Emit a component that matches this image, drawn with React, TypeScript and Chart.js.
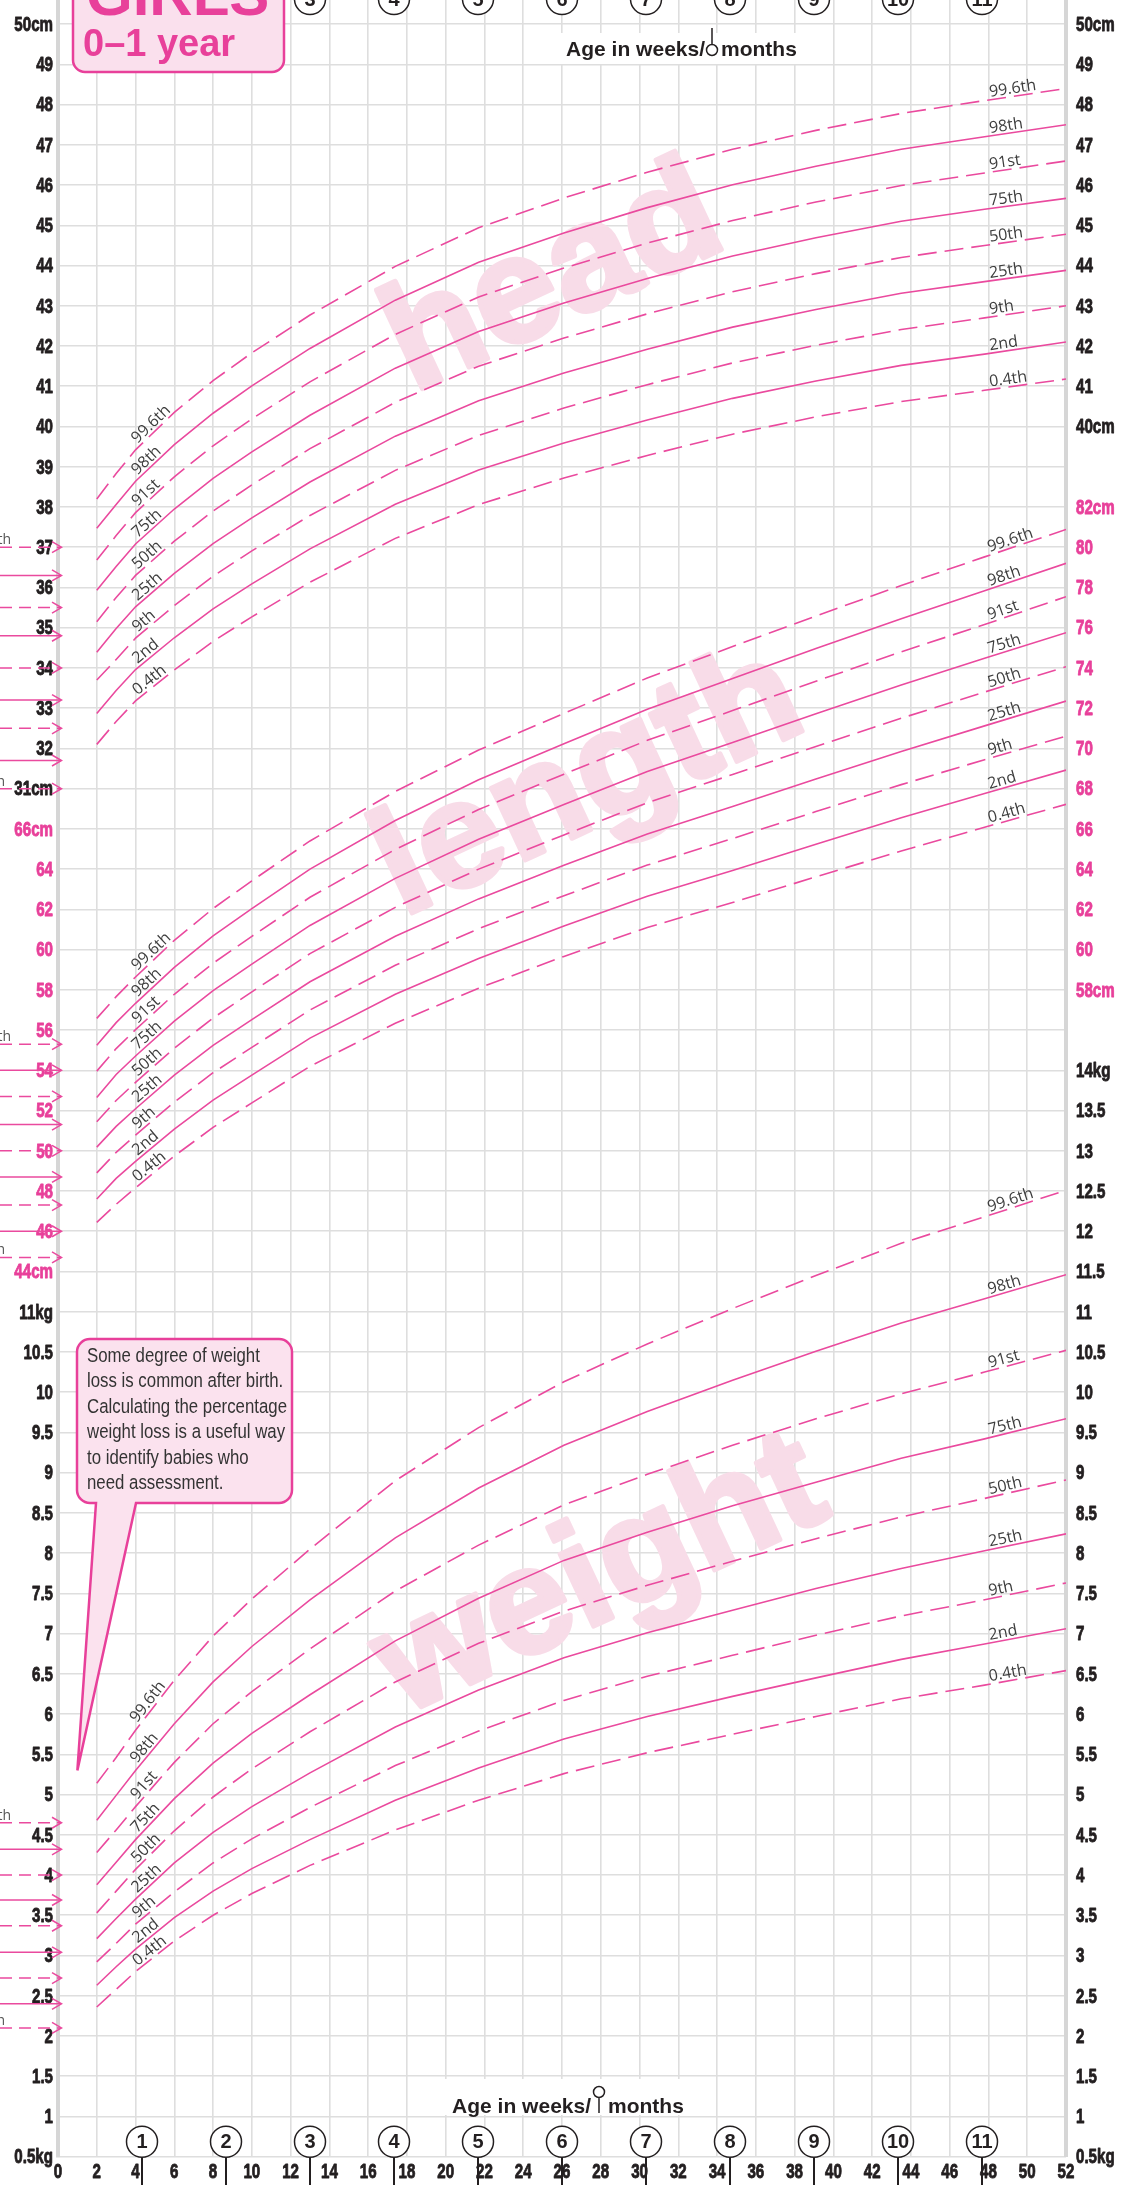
import { useEffect, useRef } from 'react';
import { Chart, registerables } from 'chart.js';

Chart.register(...registerables);

// ---------------- data ----------------
const weeks = [2, 3, 4, 6, 8, 10, 13, 17.4, 21.7, 26.1, 30.4, 34.8, 39.1, 43.5, 47.8, 52];
const centileNames = ['0.4th', '2nd', '9th', '25th', '50th', '75th', '91st', '98th', '99.6th'];
const centileDashed = [true, false, true, false, true, false, true, false, true];

const head04 = [32.1, 32.67, 33.18, 33.95, 34.66, 35.27, 36.13, 37.22, 38.06, 38.72, 39.28, 39.81, 40.24, 40.62, 40.9, 41.18];
const head2 = [32.87, 33.44, 33.96, 34.75, 35.47, 36.09, 36.96, 38.07, 38.92, 39.59, 40.16, 40.7, 41.13, 41.52, 41.8, 42.1];
const head9 = [33.7, 34.21, 34.74, 35.55, 36.28, 36.91, 37.79, 38.91, 39.78, 40.46, 41.04, 41.58, 42.02, 42.41, 42.7, 43.0];
const head25 = [34.39, 34.98, 35.52, 36.35, 37.09, 37.73, 38.62, 39.76, 40.64, 41.33, 41.92, 42.47, 42.91, 43.31, 43.6, 43.88];
const head50 = [35.15, 35.75, 36.3, 37.15, 37.9, 38.55, 39.45, 40.6, 41.5, 42.2, 42.8, 43.35, 43.8, 44.2, 44.5, 44.78];
const head75 = [35.93, 36.52, 37.08, 37.95, 38.71, 39.37, 40.28, 41.45, 42.36, 43.07, 43.68, 44.24, 44.69, 45.1, 45.4, 45.67];
const head91 = [36.68, 37.29, 37.86, 38.75, 39.52, 40.19, 41.11, 42.29, 43.22, 43.94, 44.56, 45.12, 45.58, 45.99, 46.3, 46.6];
const head98 = [37.47, 38.06, 38.64, 39.55, 40.33, 41.01, 41.94, 43.14, 44.08, 44.81, 45.44, 46.01, 46.47, 46.89, 47.2, 47.5];
const head996 = [38.2, 38.83, 39.42, 40.35, 41.14, 41.83, 42.77, 43.98, 44.94, 45.68, 46.32, 46.89, 47.36, 47.78, 48.1, 48.4];

const len04 = [46.44, 47.34, 48.16, 49.74, 51.16, 52.38, 54.2, 56.34, 58.08, 59.66, 61.1, 62.34, 63.62, 64.9, 66.08, 67.22];
const len2 = [47.6, 48.63, 49.47, 51.08, 52.52, 53.76, 55.6, 57.78, 59.56, 61.17, 62.65, 63.93, 65.24, 66.55, 67.76, 68.92];
const len9 = [48.9, 49.92, 50.78, 52.42, 53.88, 55.14, 57.0, 59.22, 61.04, 62.68, 64.2, 65.52, 66.86, 68.2, 69.44, 70.61];
const len25 = [50.18, 51.21, 52.09, 53.76, 55.24, 56.52, 58.4, 60.66, 62.52, 64.19, 65.75, 67.11, 68.48, 69.85, 71.12, 72.35];
const len50 = [51.44, 52.5, 53.4, 55.1, 56.6, 57.9, 59.8, 62.1, 64.0, 65.7, 67.3, 68.7, 70.1, 71.5, 72.8, 74.06];
const len75 = [52.65, 53.79, 54.71, 56.44, 57.96, 59.28, 61.2, 63.54, 65.48, 67.21, 68.85, 70.29, 71.72, 73.15, 74.48, 75.75];
const len91 = [53.96, 55.08, 56.02, 57.78, 59.32, 60.66, 62.6, 64.98, 66.96, 68.72, 70.4, 71.88, 73.34, 74.8, 76.16, 77.54];
const len98 = [55.24, 56.37, 57.33, 59.12, 60.68, 62.04, 64.0, 66.42, 68.44, 70.23, 71.95, 73.47, 74.96, 76.45, 77.84, 79.2];
const len996 = [56.58, 57.66, 58.64, 60.46, 62.04, 63.42, 65.4, 67.86, 69.92, 71.74, 73.5, 75.06, 76.58, 78.1, 79.52, 80.88];

const wt04 = [2.36, 2.58, 2.8, 3.18, 3.5, 3.77, 4.12, 4.56, 4.93, 5.26, 5.52, 5.75, 5.97, 6.19, 6.36, 6.54];
const wt2 = [2.63, 2.86, 3.08, 3.47, 3.8, 4.08, 4.44, 4.93, 5.33, 5.69, 5.97, 6.22, 6.45, 6.68, 6.87, 7.06];
const wt9 = [2.92, 3.15, 3.39, 3.79, 4.15, 4.45, 4.84, 5.36, 5.79, 6.17, 6.47, 6.73, 6.98, 7.22, 7.42, 7.63];
const wt25 = [3.21, 3.46, 3.7, 4.15, 4.53, 4.85, 5.27, 5.84, 6.3, 6.7, 7.01, 7.29, 7.56, 7.81, 8.03, 8.24];
const wt50 = [3.53, 3.8, 4.07, 4.55, 4.97, 5.32, 5.78, 6.4, 6.88, 7.28, 7.6, 7.9, 8.18, 8.45, 8.68, 8.91];
const wt75 = [3.88, 4.16, 4.44, 4.95, 5.39, 5.76, 6.24, 6.91, 7.44, 7.91, 8.26, 8.59, 8.88, 9.18, 9.42, 9.67];
const wt91 = [4.28, 4.56, 4.85, 5.4, 5.88, 6.28, 6.81, 7.53, 8.1, 8.6, 8.98, 9.34, 9.67, 9.98, 10.25, 10.52];
const wt98 = [4.68, 4.99, 5.3, 5.88, 6.4, 6.84, 7.42, 8.19, 8.81, 9.34, 9.76, 10.15, 10.51, 10.86, 11.16, 11.46];
const wt996 = [5.14, 5.46, 5.8, 6.42, 6.97, 7.43, 8.05, 8.9, 9.56, 10.13, 10.6, 11.04, 11.45, 11.85, 12.18, 12.51];

// arrows coming in from the previous (preterm) section, top to bottom
const headArrows = [37.0, 36.3, 35.5, 34.8, 34.0, 33.2, 32.5, 31.7, 31.0];
const lengthArrows = [55.3, 54.0, 52.7, 51.3, 50.0, 48.7, 47.3, 46.0, 44.7];
const weightArrows = [4.65, 4.32, 4.0, 3.69, 3.37, 3.04, 2.72, 2.4, 2.1];

// tick labels
const weightTicksLeft = ['0.5kg', '1', '1.5', '2', '2.5', '3', '3.5', '4', '4.5', '5', '5.5', '6', '6.5', '7', '7.5', '8', '8.5', '9', '9.5', '10', '10.5', '11kg'];
const lengthTicksLeft = ['44cm', '46', '48', '50', '52', '54', '56', '58', '60', '62', '64', '66cm'];
const headTicksLeft = ['31cm', '32', '33', '34', '35', '36', '37', '38', '39', '40', '41', '42', '43', '44', '45', '46', '47', '48', '49', '50cm'];
const weightTicksRight = ['0.5kg', '1', '1.5', '2', '2.5', '3', '3.5', '4', '4.5', '5', '5.5', '6', '6.5', '7', '7.5', '8', '8.5', '9', '9.5', '10', '10.5', '11', '11.5', '12', '12.5', '13', '13.5', '14kg'];
const lengthTicksRight = ['58cm', '60', '62', '64', '66', '68', '70', '72', '74', '76', '78', '80', '82cm'];
const headTicksRight = ['40cm', '41', '42', '43', '44', '45', '46', '47', '48', '49', '50cm'];
const months = [1, 2, 3, 4, 5, 6, 7, 8, 9, 10, 11];

const calloutLines = [
  'Some degree of weight',
  'loss is common after birth.',
  'Calculating the percentage',
  'weight loss is a useful way',
  'to identify babies who',
  'need assessment.',
];

// ---------------- styling ----------------
const PINK = '#e8409a';
const PINK_LINE = '#ea4a9e';
const DARK = '#231f20';
const GRID = '#dedede';
const SANS = '"Liberation Sans", Arial, sans-serif';
const LIGHT = '"Open Sans", "Liberation Sans", sans-serif';
const TICK_FONT = `bold 21px ${SANS}`;
const TICK_SX = 0.72;

const leftLabels = [...weightTicksLeft, ...lengthTicksLeft, ...headTicksLeft];
const rightLabels = [...weightTicksRight, '', ...lengthTicksRight, '', ...headTicksRight];
const leftPinkFrom = weightTicksLeft.length;
const leftPinkTo = weightTicksLeft.length + lengthTicksLeft.length - 1;
const rightPinkFrom = weightTicksRight.length + 1;
const rightPinkTo = rightPinkFrom + lengthTicksRight.length - 1;

const groups = [
  { axis: 'yH', series: [head04, head2, head9, head25, head50, head75, head91, head98, head996] },
  { axis: 'yL', series: [len04, len2, len9, len25, len50, len75, len91, len98, len996] },
  { axis: 'yW', series: [wt04, wt2, wt9, wt25, wt50, wt75, wt91, wt98, wt996] },
];

function interp(ys: number[], w: number) {
  for (let i = 0; i < weeks.length - 1; i++) {
    if (w <= weeks[i + 1]) {
      const t = (w - weeks[i]) / (weeks[i + 1] - weeks[i]);
      return ys[i] + t * (ys[i + 1] - ys[i]);
    }
  }
  return ys[ys.length - 1];
}

function condensedText(ctx: any, text: string, x: number, y: number, align: string, sx: number, bold = false) {
  ctx.save();
  ctx.translate(x, y);
  ctx.scale(sx, 1);
  ctx.textAlign = align;
  ctx.fillText(text, 0, 0);
  if (bold) {
    ctx.strokeStyle = ctx.fillStyle;
    ctx.lineWidth = 0.9;
    ctx.lineJoin = 'round';
    ctx.strokeText(text, 0, 0);
  }
  ctx.restore();
}

const decor = {
  id: 'decor',
  beforeDraw(chart: any) {
    const ctx = chart.ctx;
    ctx.save();
    ctx.fillStyle = '#ffffff';
    ctx.fillRect(0, 0, chart.width, chart.height);
    ctx.restore();
  },
  beforeDatasetsDraw(chart: any) {
    const ctx = chart.ctx;
    const x = chart.scales.x;
    const marks = [
      { t: 'head', w: 25.6, v: 43.6, ax: 'yH' },
      { t: 'length', w: 27.4, v: 68.2, ax: 'yL' },
      { t: 'weight', w: 28.0, v: 7.7, ax: 'yW' },
    ];
    ctx.save();
    ctx.fillStyle = '#f8dce8';
    ctx.strokeStyle = '#f8dce8';
    ctx.lineWidth = 5;
    ctx.lineJoin = 'round';
    ctx.font = `bold 150px ${SANS}`;
    ctx.textAlign = 'center';
    ctx.textBaseline = 'middle';
    for (const m of marks) {
      ctx.save();
      ctx.translate(x.getPixelForValue(m.w), chart.scales[m.ax].getPixelForValue(m.v));
      ctx.rotate((-25 * Math.PI) / 180);
      ctx.fillText(m.t, 0, 0);
      ctx.strokeText(m.t, 0, 0);
      ctx.restore();
    }
    ctx.restore();
  },
  afterDraw(chart: any) {
    const ctx = chart.ctx;
    const xs = chart.scales.x;
    const yl = chart.scales.yLeft;
    const yr = chart.scales.yRight;
    const area = chart.chartArea;

    // axis tick labels (condensed bold)
    ctx.save();
    ctx.font = TICK_FONT;
    ctx.textBaseline = 'middle';
    yl.ticks.forEach((t: any) => {
      const v = Math.round(t.value);
      const lbl = leftLabels[v];
      if (!lbl) return;
      ctx.fillStyle = v >= leftPinkFrom && v <= leftPinkTo ? PINK : DARK;
      condensedText(ctx, lbl, yl.right - 5, yl.getPixelForValue(t.value) + 1, 'right', TICK_SX, true);
    });
    yr.ticks.forEach((t: any) => {
      const v = Math.round(t.value);
      const lbl = rightLabels[v];
      if (!lbl) return;
      ctx.fillStyle = v >= rightPinkFrom && v <= rightPinkTo ? PINK : DARK;
      condensedText(ctx, lbl, yr.left + 10, yr.getPixelForValue(t.value) + 1, 'left', TICK_SX, true);
    });
    ctx.fillStyle = DARK;
    ctx.textBaseline = 'top';
    xs.ticks.forEach((t: any) => {
      condensedText(ctx, String(t.value), xs.getPixelForValue(t.value), area.bottom + 5, 'center', TICK_SX, true);
    });
    ctx.restore();

    // centile labels
    ctx.save();
    ctx.fillStyle = '#3d3d3d';
    ctx.font = `16px ${LIGHT}`;
    ctx.textBaseline = 'alphabetic';
    ctx.textAlign = 'left';
    for (const g of groups) {
      const ys = chart.scales[g.axis];
      g.series.forEach((arr, i) => {
        for (const ws of [4.2, 48.1]) {
          const p0x = xs.getPixelForValue(ws);
          const p0y = ys.getPixelForValue(interp(arr, ws));
          const p1x = xs.getPixelForValue(ws + 1.5);
          const p1y = ys.getPixelForValue(interp(arr, Math.min(52, ws + 1.5)));
          const ang = Math.atan2(p1y - p0y, p1x - p0x);
          ctx.save();
          ctx.translate(p0x, p0y);
          ctx.rotate(ang);
          ctx.fillText(centileNames[i], 0, -3);
          ctx.restore();
        }
      });
    }
    ctx.restore();

    // left incoming arrows
    ctx.save();
    ctx.strokeStyle = PINK_LINE;
    ctx.lineWidth = 1.5;
    const arrowSets = [
      { ax: 'yH', vals: headArrows },
      { ax: 'yL', vals: lengthArrows },
      { ax: 'yW', vals: weightArrows },
    ];
    for (const s of arrowSets) {
      const sc = chart.scales[s.ax];
      s.vals.forEach((v, i) => {
        const y = sc.getPixelForValue(v);
        ctx.setLineDash(i % 2 === 0 ? [12, 7] : []);
        ctx.beginPath();
        ctx.moveTo(0, y);
        ctx.lineTo(61, y);
        ctx.stroke();
        ctx.setLineDash([]);
        ctx.beginPath();
        ctx.moveTo(52, y - 5.5);
        ctx.lineTo(61.5, y);
        ctx.lineTo(52, y + 5.5);
        ctx.stroke();
      });
      ctx.fillStyle = '#555';
      ctx.font = `14px ${LIGHT}`;
      ctx.textAlign = 'right';
      ctx.fillText('99.6th', 11, sc.getPixelForValue(s.vals[0]) - 3);
      ctx.fillText('0.4th', 5, sc.getPixelForValue(s.vals[8]) - 3);
    }
    ctx.restore();

    // title box
    ctx.save();
    ctx.beginPath();
    ctx.moveTo(73, -5);
    ctx.lineTo(73, 60);
    ctx.arcTo(73, 72, 85, 72, 12);
    ctx.lineTo(272, 72);
    ctx.arcTo(284, 72, 284, 60, 12);
    ctx.lineTo(284, -5);
    ctx.closePath();
    ctx.fillStyle = '#fae0ed';
    ctx.fill();
    ctx.strokeStyle = PINK;
    ctx.lineWidth = 2.5;
    ctx.stroke();
    ctx.fillStyle = PINK;
    ctx.textAlign = 'left';
    ctx.textBaseline = 'alphabetic';
    ctx.font = `bold 60px ${SANS}`;
    ctx.fillText('GIRLS', 86, 15);
    ctx.font = `bold 38px ${SANS}`;
    ctx.fillText('0–1 year', 83, 56);
    ctx.restore();

    // callout
    ctx.save();
    const L = 77, R = 292, T = 1339, B = 1503, r = 13;
    const tipX = xs.getPixelForValue(1);
    const tipY = chart.scales.yW.getPixelForValue(5.3);
    ctx.beginPath();
    ctx.moveTo(L + r, T);
    ctx.lineTo(R - r, T);
    ctx.arcTo(R, T, R, T + r, r);
    ctx.lineTo(R, B - r);
    ctx.arcTo(R, B, R - r, B, r);
    ctx.lineTo(136, B);
    ctx.lineTo(tipX, tipY);
    ctx.lineTo(96, B);
    ctx.lineTo(L + r, B);
    ctx.arcTo(L, B, L, B - r, r);
    ctx.lineTo(L, T + r);
    ctx.arcTo(L, T, L + r, T, r);
    ctx.closePath();
    ctx.fillStyle = '#fbe2ee';
    ctx.fill();
    ctx.strokeStyle = PINK;
    ctx.lineWidth = 2.5;
    ctx.stroke();
    ctx.fillStyle = '#333';
    ctx.font = `20.5px ${SANS}`;
    ctx.textBaseline = 'alphabetic';
    calloutLines.forEach((ln, i) => condensedText(ctx, ln, 87, 1362 + i * 25.4, 'left', 0.82));
    ctx.restore();

    // age labels
    ctx.save();
    ctx.fillStyle = '#ffffff';
    ctx.fillRect(548, 33, 253, 31);
    ctx.fillRect(440, 2079, 250, 36);
    ctx.fillStyle = DARK;
    ctx.font = `bold 21px ${SANS}`;
    ctx.textBaseline = 'alphabetic';
    ctx.textAlign = 'right';
    ctx.fillText('Age in weeks/', 705, 56);
    ctx.fillText('Age in weeks/', 591, 2113);
    ctx.textAlign = 'left';
    ctx.fillText('months', 721, 56);
    ctx.fillText('months', 608, 2113);
    ctx.strokeStyle = DARK;
    ctx.lineWidth = 1.5;
    ctx.beginPath();
    ctx.arc(712, 50, 5.5, 0, Math.PI * 2);
    ctx.moveTo(712, 44.5);
    ctx.lineTo(712, 28);
    ctx.stroke();
    ctx.beginPath();
    ctx.arc(599, 2092, 5.5, 0, Math.PI * 2);
    ctx.moveTo(599, 2097.5);
    ctx.lineTo(599, 2113);
    ctx.stroke();
    ctx.restore();

    // month circles (top and bottom)
    ctx.save();
    ctx.strokeStyle = DARK;
    ctx.fillStyle = DARK;
    ctx.textAlign = 'center';
    ctx.textBaseline = 'middle';
    ctx.font = `bold 20px ${SANS}`;
    for (const m of months) {
      const px = xs.getPixelForValue((m * 52) / 12);
      const by = area.bottom - 15;
      ctx.lineWidth = 2;
      ctx.beginPath();
      ctx.moveTo(px, by + 15.5);
      ctx.lineTo(px, chart.height);
      ctx.stroke();
      for (const cy of [by, -1]) {
        if (cy < 0 && px < 290) continue;
        ctx.beginPath();
        ctx.arc(px, cy, 15.5, 0, Math.PI * 2);
        ctx.fillStyle = '#ffffff';
        ctx.fill();
        ctx.lineWidth = 1.5;
        ctx.stroke();
        ctx.fillStyle = DARK;
        ctx.fillText(String(m), px, cy + 1);
      }
    }
    ctx.restore();
  },
};

export default function App() {
  const ref = useRef<HTMLCanvasElement | null>(null);

  useEffect(() => {
    if (!ref.current) return;
    document.body.style.margin = '0';
    const datasets: any[] = [];
    for (const g of groups) {
      g.series.forEach((arr, i) => {
        datasets.push({
          label: `${g.axis}-${centileNames[i]}`,
          data: weeks.map((w, k) => ({ x: w, y: arr[k] })),
          yAxisID: g.axis,
          borderColor: PINK_LINE,
          borderWidth: 1.6,
          borderDash: centileDashed[i] ? [19, 8] : [],
          pointRadius: 0,
          tension: 0,
          fill: false,
        });
      });
    }
    const chart = new Chart(ref.current, {
      type: 'line',
      data: { datasets },
      plugins: [decor],
      options: {
        responsive: false,
        animation: false,
        devicePixelRatio: 1,
        events: [],
        layout: { padding: 0 },
        plugins: { legend: { display: false }, tooltip: { enabled: false } },
        scales: {
          x: {
            type: 'linear',
            position: 'bottom',
            min: 0,
            max: 52,
            ticks: { stepSize: 2, display: false, autoSkip: false, includeBounds: false },
            grid: { color: GRID, lineWidth: 1.6, drawTicks: false },
            border: { display: false },
            afterFit: (s: any) => {
              s.height = 28.3;
              s.paddingLeft = 0;
              s.paddingRight = 0;
            },
          },
          yLeft: {
            type: 'linear',
            position: 'left',
            min: 0,
            max: 53.6,
            ticks: { stepSize: 1, display: false, autoSkip: false, includeBounds: false },
            grid: { color: GRID, lineWidth: 1.6, drawTicks: false },
            border: { color: '#d6d6d6', width: 4 },
            afterFit: (s: any) => {
              s.width = 58;
              s.paddingTop = 0;
              s.paddingBottom = 0;
            },
          },
          yRight: {
            type: 'linear',
            position: 'right',
            min: 0,
            max: 53.6,
            ticks: { stepSize: 1, display: false, autoSkip: false, includeBounds: false },
            grid: { drawOnChartArea: false, drawTicks: false },
            border: { color: '#d6d6d6', width: 4 },
            afterFit: (s: any) => {
              s.width = 57;
              s.paddingTop = 0;
              s.paddingBottom = 0;
            },
          },
          yW: { type: 'linear', display: false, min: 0.5, max: 27.3 },
          yL: { type: 'linear', display: false, min: 0, max: 107.2 },
          yH: { type: 'linear', display: false, min: -3, max: 50.6 },
        },
      } as any,
    });
    return () => chart.destroy();
  }, []);

  return (
    <div style={{ position: 'absolute', left: 0, top: 0, width: 1123, height: 2185 }}>
      <canvas ref={ref} width={1123} height={2185} style={{ width: 1123, height: 2185, display: 'block' }} />
    </div>
  );
}
